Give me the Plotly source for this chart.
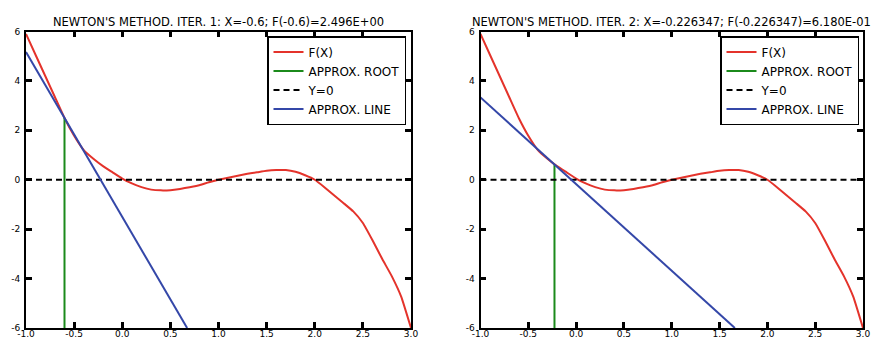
import plotly.graph_objects as go

# ---- data ----
x_f = [-1.0, -0.9, -0.8, -0.7, -0.6, -0.5, -0.4, -0.3, -0.2, -0.1, 0.0,
       0.1, 0.2, 0.3, 0.4, 0.5, 0.6, 0.7, 0.8, 0.9, 1.0,
       1.1, 1.2, 1.3, 1.4, 1.5, 1.6, 1.7, 1.8, 1.9, 2.0,
       2.1, 2.2, 2.3, 2.4, 2.5, 2.6, 2.7, 2.8, 2.9, 3.0]
f_vals = [5.9, 5.05, 4.2, 3.35, 2.5, 1.78, 1.2, 0.85, 0.55, 0.3, 0.05,
          -0.15, -0.3, -0.4, -0.43, -0.42, -0.37, -0.3, -0.22, -0.1, 0.0,
          0.08, 0.16, 0.24, 0.3, 0.36, 0.39, 0.39, 0.32, 0.18, 0.0,
          -0.3, -0.63, -0.95, -1.28, -1.75, -2.45, -3.2, -3.9, -4.75, -6.0]

iter_x = [-0.6, -0.226347]
iter_f = [2.496, 0.618]

tan1_x = [-1.0, -0.5, 0.0, 0.5, 0.674]
tan1_y = [5.17, 1.83, -1.51, -4.85, -6.0]
tan2_x = [-1.0, -0.5, 0.0, 0.5, 1.0, 1.5, 1.66]
tan2_y = [3.33, 1.58, -0.17, -1.93, -3.68, -5.44, -6.0]

zero_x = [-1.0, 3.0]
zero_y = [0.0, 0.0]

titles = ["NEWTON'S METHOD. ITER. 1: X=-0.6; F(-0.6)=2.496E+00",
          "NEWTON'S METHOD. ITER. 2: X=-0.226347; F(-0.226347)=6.180E-01"]
legend_names = ["F(X)", "APPROX. ROOT", "Y=0", "APPROX. LINE"]

x_ticks = [-1.0, -0.5, 0.0, 0.5, 1.0, 1.5, 2.0, 2.5, 3.0]
x_tick_labels = ["-1.0", "-0.5", "0.0", "0.5", "1.0", "1.5", "2.0", "2.5", "3.0"]
y_ticks = [-6, -4, -2, 0, 2, 4, 6]
y_tick_labels = ["-6", "-4", "-2", "0", "2", "4", "6"]

# ---- styling ----
FONT = "DejaVu Sans"
RED = "#e4332b"
GREEN = "#1b8a1b"
BLUE = "#3447a8"

tan_x = [tan1_x, tan2_x]
tan_y = [tan1_y, tan2_y]

fig = go.Figure()
for i in range(2):
    sfx = "" if i == 0 else "2"
    xa, ya = "x" + sfx, "y" + sfx
    leg = "legend" + sfx
    fig.add_trace(go.Scatter(x=x_f, y=f_vals, mode="lines", name=legend_names[0],
                             line=dict(color=RED, width=2, shape="spline", smoothing=0.3),
                             xaxis=xa, yaxis=ya, legend=leg))
    fig.add_trace(go.Scatter(x=[iter_x[i], iter_x[i]], y=[-6, iter_f[i]], mode="lines",
                             name=legend_names[1], line=dict(color=GREEN, width=2),
                             xaxis=xa, yaxis=ya, legend=leg))
    fig.add_trace(go.Scatter(x=zero_x, y=zero_y, mode="lines", name=legend_names[2],
                             line=dict(color="black", width=2, dash="6px,4px"),
                             xaxis=xa, yaxis=ya, legend=leg))
    fig.add_trace(go.Scatter(x=tan_x[i], y=tan_y[i], mode="lines", name=legend_names[3],
                             line=dict(color=BLUE, width=2),
                             xaxis=xa, yaxis=ya, legend=leg))

W, H = 880, 337
xdoms = [[18 / W, 403 / W], [472.5 / W, 855 / W]]
ydom = [1 - 320 / H, 1 - 23.5 / H]

axis_common = dict(showline=True, linecolor="black", linewidth=1.8, mirror="allticks",
                   ticks="inside", ticklen=6, tickwidth=2.5, tickcolor="black",
                   showgrid=False, zeroline=False,
                   tickfont=dict(family=FONT, size=9, color="black"))

layout = dict(width=W, height=H, margin=dict(l=0, r=0, t=0, b=0),
              paper_bgcolor="white", plot_bgcolor="white", template="none",
              font=dict(family=FONT, color="black"))
for i in range(2):
    sfx = "" if i == 0 else "2"
    layout["xaxis" + sfx] = dict(domain=xdoms[i], range=[-1, 3], anchor="y" + sfx,
                                 tickvals=x_ticks, ticktext=x_tick_labels,
                                 ticklabelstandoff=-4,
                                 **axis_common)
    layout["yaxis" + sfx] = dict(domain=ydom, range=[-6, 6], anchor="x" + sfx,
                                 tickvals=y_ticks, ticktext=y_tick_labels,
                                 ticklabelstandoff=2,
                                 **axis_common)

leg_x = [398 / W, 851 / W]
for i in range(2):
    sfx = "" if i == 0 else "2"
    layout["legend" + sfx] = dict(x=leg_x[i], y=1 - 28 / H, xanchor="right", yanchor="top",
                                  xref="paper", yref="paper",
                                  bgcolor="white", bordercolor="black", borderwidth=1.5,
                                  font=dict(family=FONT, size=12, color="black"))

fig.update_layout(**layout)

for i in range(2):
    fig.add_annotation(text=titles[i], xref="paper", yref="paper",
                       x=(xdoms[i][0] + xdoms[i][1]) / 2, y=1 - 14 / H,
                       xanchor="center", yanchor="middle", showarrow=False,
                       font=dict(family=FONT, size=11.5, color="black"))

fig.write_html("out.html")
